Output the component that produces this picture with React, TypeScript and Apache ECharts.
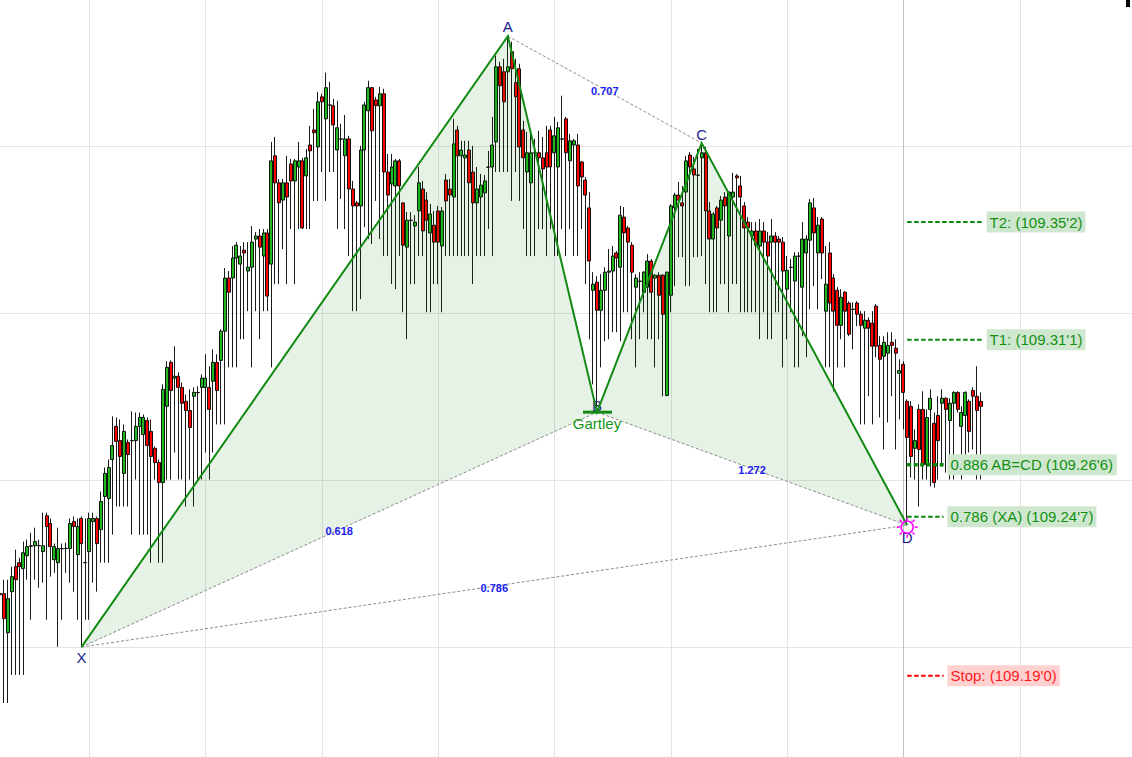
import React, { useEffect, useRef } from 'react';
import * as echarts from 'echarts';

// Price unit: thousandths above 109.000 (e.g. 352.7 = 109.3527)
const BAR_COUNT = 293; // 254 traded bars + empty future bars on the right
const barLabels: string[] = Array.from({ length: BAR_COUNT }, (_, i) => `Bar ${i + 1}`);

// [open, close, low, high]
const candles: number[][] = [
  [219.2,218.8,211.6,222.4],[219.2,210.2,179.9,224.2],[205.1,217.4,179.9,224.2],[219.9,225.3,190,228.9],[228.9,224.2,190,235],
  [230.3,228.9,190,232.1],[228.2,233.9,190,237.9],[232.8,236.1,224.2,238.6],[236.4,236.2,209.8,241.1],[236.4,237.9,224.2,242.9],
  [236.4,236.5,221.3,238.6],[234.3,236.4,223.1,248.3],[247.2,243.3,209.8,248.3],[244.4,236.1,225.3,246.2],[231.4,236.1,226.7,237.2],
  [230.3,235.4,200.1,242.9],[235.4,235.3,209.8,237.2],[235.4,235.5,226.7,237.5],[235.4,244.4,223.1,246.2],[245.1,243.3,219.9,246.9],
  [233.2,243.3,209.8,246.2],[246.2,237.2,200.0,246.9],[230.3,230.4,209.8,246.2],[234.3,246.2,209.8,248.3],[245.1,246.2,223.1,248.3],
  [246.2,237.2,219.9,246.9],[242.2,252.3,230.3,255.9],[254.1,262.4,230.3,264.5],[253.4,264.5,230.3,267.4],[267.4,272.4,240.4,282.9],
  [279.3,273.9,250.5,282.5],[274.2,268.5,250.5,281.8],[262.4,277.5,250.5,280],[273.5,269.2,250.5,274.6],[274.2,274.1,240.4,284.7],
  [274.2,279.3,260.2,284.3],[279.3,282.5,240.4,284.3],[276.4,282.5,240.4,283.6],[281.4,272.4,240.4,282.5],[277.5,268.5,230.3,281.8],
  [271.4,266.3,260.2,272.1],[266.3,259.1,230.3,267.4],[259.1,292.6,230.3,294.4],[286.5,300.5,260.2,302.7],[302.3,292.2,260.2,303.0],
  [296.6,297.3,269.9,308.1],[297.3,293.3,260.2,298.7],[293.3,287.6,260.2,295.1],[288.3,285,250.5,290.8],[285,278.9,260.2,292.6],
  [290.1,291.5,250.5,293.3],[291.5,291.4,260.2,293.7],[293.3,296.6,260.2,298],[293.3,296.6,269.9,305.2],[293.3,285.4,260.2,300.9],
  [295.5,302.3,269.9,307],[302.3,292.2,280,305.2],[303,313.5,280,314.2],[313.5,332.6,280,336.2],[332.6,327.5,300.5,335.1],
  [332.6,339.8,300.5,344.1],[339.8,344.4,300.5,345.5],[337.6,340.5,310.6,344.1],[342.6,341.6,310.6,345.5],[335.1,336.5,320.7,345.5],
  [336.5,345.5,300.5,351.3],[346.6,347.7,320.7,349.1],[347.7,343.7,310.6,350.2],[340.5,348.8,320.7,350.2],[348.8,326.1,320.7,350.2],
  [337.6,374.7,300.5,381.5],[376.5,366.8,330.4,383.3],[366.8,359.6,330.4,368.2],[360.6,366.8,343,368.2],[366.8,361.7,330.4,376.5],
  [373.6,367.5,350.2,375.4],[367.5,374.7,330.4,375.4],[372.5,374.7,350.2,381.5],[374.7,350.6,350.2,375.8],[369.3,375.8,350.2,379],
  [380.4,378.3,350.2,387.3],[385.8,384.8,360.3,393.4],[379.7,395.9,360.3,399.5],[397.7,395.9,370.7,398.8],[389.8,401,360.3,406.4],
  [394.8,394.7,370.7,403.1],[394.5,387.6,370.7,397],[378.6,386.6,350.2,396.3],[382.6,382.5,361,388],[376.5,382.6,350.2,391.2],
  [382.6,364.6,340.5,383.7],[364.6,358.5,320.7,367.5],[359.6,358.5,320.7,360.3],[358.5,378.6,325,380.1],[378.6,394.8,350.9,395.9],
  [392.7,401,346.6,403.5],[401,385.5,344.8,401.3],[396.6,394.5,360.3,397.7],[394.5,398.8,346.6,401.3],[398.8,370.7,340.5,400.6],
  [370.7,362.4,340.5,377.2],[366.4,372.5,330.4,377.2],[365.7,374.7,328.6,375.4],[374.7,365.7,340.5,375.4],[359.6,344.4,320.3,359.9],
  [343.7,353.4,310.6,356.3],[353.4,353.3,330.4,356.3],[351.3,352.7,330.4,355.2],[356.7,366.8,340.5,372.5],[364.6,349.5,340.5,367.5],
  [360.6,353.4,320.3,363.5],[348.8,355.6,320.3,359.2],[351.6,345.5,330.4,356.7],[356.7,345.5,330.4,358.5],[344.1,356.7,320.3,358.1],
  [367.8,360.3,340.5,370],[364.6,362.4,340.5,368.2],[361.7,380.8,340.5,389.8],[385.8,376.5,340.5,387.3],[376.5,378.6,340.5,381.9],
  [375.8,376.8,340.5,381.9],[378.6,366.8,340.5,381.9],[370.7,359.6,330.4,380.1],[359.6,364.6,340.5,372.5],[361.7,366,340.5,370],
  [363.2,367.5,340.5,369.6],[372.5,372.4,350.2,378.3],[372.5,380.4,340.5,390.5],[381.5,408.5,370.7,412.5],[408.5,401.7,370.7,410.3],
  [406.7,395.9,370.7,411.4],[406.7,408.5,370.7,419.5],[413.9,407.8,360.3,417.5],[402.8,397.7,370.7,411.4],[407.8,379.7,360.3,409.6],
  [385.8,375.8,350.2,389.1],[370.7,377.6,340.5,385.1],[366.8,377.6,340.5,384.4],[377.6,377.5,340.5,382.6],[377.6,375.8,350.2,385.5],
  [375.8,371.8,350.2,383.3],[377.6,372.5,340.5,387.3],[385.8,372.5,350.2,387.3],[377.6,383.7,340.5,390.5],[372.5,386.6,340.5,388.7],
  [382.6,382.5,350.2,398.1],[389.8,377.6,340.5,390.5],[374.7,381.9,350.2,384.4],[380.4,381.9,340.5,382.6],[380.4,365.7,340.5,384.4],
  [374.3,368.9,350.2,374.7],[367.8,362.4,330.4,368.9],[357.8,338.7,310.6,363.5],[328.2,330.4,294.4,334.7],[331.1,321,284.4,333.3],
  [321,328.2,300.5,334],[328.2,334.7,309.9,336.5],[334.7,335.1,310.6,343],[335.1,340.5,313.1,344.1],[341.6,339.8,313.1,342.3],
  [336.5,355.2,309.9,358.5],[354.5,348.8,320.3,358.1],[350.6,345.5,320.3,351.3],[344.4,334.7,310.6,345.5],[329.3,332.6,300.5,334],
  [331.5,331.4,310.6,334.7],[327.5,334.7,320.3,335.1],[329.3,338.7,310.6,341.2],[338.7,327.5,310.6,339.4],[332.6,333.6,300.5,334],
  [333.6,326.4,310.6,334.7],[333.6,319.6,290.1,334],[290.4,334.7,290.1,334.9],[326.4,358.5,320.3,359.2],[357.8,362.4,329.7,363.2],
  [362.4,360.6,340.1,367.1],[359.6,358.5,340.1,365.7],[363.5,374.7,329.7,376.5],[376.8,372.5,329.7,377.9],[371.8,369.6,340.1,376.1],
  [369.6,369.5,340.1,379],[375.8,377.6,340.5,381.1],[377.6,356.7,330.4,379.7],[356.7,346.6,320.3,359.9],[346.6,355.6,320.3,356.3],
  [357.8,350.6,320.3,358.5],[353.4,360.6,330.4,362.1],[361.7,358.5,330.4,363.5],[347.7,363.5,320.3,363.9],[361.7,363.5,330.4,370.4],
  [369.3,368.6,330.4,370],[365.7,361.7,320.3,369.3],[358.5,350.6,320.3,359.9],[352.7,350.6,320.3,354.5],[347.7,349.5,320.3,352.7],
  [349.5,344.4,320.3,352.7],[344.1,349.5,310.6,353.8],[349.5,345.5,320.3,352.7],[345.5,340.5,310.6,349.1],[345.5,347.7,310.6,353.8],
  [347.7,345.5,320.3,349.1],[346.6,345.5,320.3,347.7],[345.5,335.1,300.5,347.3],[328.6,335.4,310.6,340.5],[336.5,336.4,320.3,339.4],
  [331.5,340.5,300.5,341.9],[340.5,340.4,300.5,341.9],[329.3,346.6,311.7,352.7],[341.6,346.6,304.1,348],[346.2,359.6,321.4,361],
  [357.8,348.8,329.7,361.4],[341.6,351.6,321.4,354.5],[353.8,341.6,332.2,354.5],[320.7,330.4,300.5,344.1],[341.6,323.6,300.5,345.5],
  [332.6,320.7,291.9,334],[328.2,315.6,300.5,329.3],[315.6,325.7,310.6,328.6],[327.5,320.7,300.5,327.9],[323.6,312.4,311.7,324.3],
  [321.4,321.3,307,323.9],[323.6,319.6,315.3,324.3],[319.6,315.6,280,320.7],[314.6,317.4,280,320.7],[317.4,314.6,290.1,318.5],
  [316.4,308.1,280,320.7],[322.5,308.1,304.1,323.2],[308.4,303.4,282.5,311.7],[304.5,309.5,271,311.7],[305.6,308.4,280.7,313.1],
  [309.5,308.4,290.1,313.1],[307.4,305.6,271,310.6],[298.4,299.4,281.8,303.4],[301.6,291.5,278.2,302.7],[288.3,275.3,243.8,289],
  [286.5,268.5,260.9,288.3],[271.4,274.2,260.2,278.2],[285.4,271,250.5,287.2],[285.4,265.6,260.2,291.9],[265.6,282.5,260.2,285.4],
  [285.4,289.4,257.7,292.6],[280.4,259.1,257.3,284.3],[283.2,274.2,260.2,290.1],[287.6,289.4,264.9,292.6],[289.4,285.4,262.7,289.7],
  [281.4,287.6,260.2,289.4],[287.6,291.5,260.2,291.9],[291.5,285.4,284.3,291.9],[279.3,284.3,260.2,286.5],[283.2,291.5,264.9,291.9],
  [288.3,277.5,269.9,289],[292.2,290.1,271,293.3],[290.1,285,260.2,300.9],[288.3,286.5,260.2,291.5],
];

// Reference grid
const gridPrices = [200, 260, 320, 380];
const gridBars = [23, 53, 83, 113, 143, 173, 203, 263];
const cursorBar = 233;

// Harmonic (Gartley) pattern
const patternNames = ['X', 'A', 'B', 'C', 'D'];
const patternBars = [21, 131, 154, 181, 234];
const patternPrices = [200.0, 419.5, 284.4, 381.1, 243.8];
const patternTitle = 'Gartley';
const ratioLabels = ['0.618', '0.707', '1.272', '0.786'];
const ratioPairs = [[0, 2], [1, 3], [2, 4], [0, 4]];

// Targets / levels
const targetTexts = ["T2: (109.35'2)", "T1: (109.31'1)", "0.886 AB=CD (109.26'6)", "0.786 (XA) (109.24'7)", "Stop: (109.19'0)"];
const targetPrices = [352.7, 310.4, 265.5, 246.8, 189.7];
const targetKinds = ['target', 'target', 'zone', 'level', 'stop'];

const FONT = "'Liberation Sans', Arial, Helvetica, sans-serif";
const GREEN = '#138a13';

export default function App() {
  const ref = useRef<HTMLDivElement>(null);

  useEffect(() => {
    if (!ref.current) return;
    document.body.style.margin = '0';
    const chart = echarts.init(ref.current, null, { renderer: 'svg' });

    const gridRender = (params: any, api: any) => {
      const cs = params.coordSys;
      const children: any[] = [];
      gridPrices.forEach((v) => {
        const y = Math.round(api.coord([0, v])[1]) + 0.5;
        children.push({ type: 'line', shape: { x1: cs.x, y1: y, x2: cs.x + cs.width, y2: y }, style: { stroke: '#e4e4e4', lineWidth: 1 } });
      });
      gridBars.forEach((b) => {
        const x = Math.round(api.coord([b, 300])[0]) + 0.5;
        children.push({ type: 'line', shape: { x1: x, y1: cs.y, x2: x, y2: cs.y + cs.height }, style: { stroke: '#e4e4e4', lineWidth: 1 } });
      });
      const xc = Math.round(api.coord([cursorBar, 300])[0]) + 0.5;
      children.push({ type: 'line', shape: { x1: xc, y1: cs.y, x2: xc, y2: cs.y + cs.height }, style: { stroke: '#c2c2c2', lineWidth: 1 } });
      return { type: 'group', children };
    };

    const patternRender = (_params: any, api: any) => {
      const pts: number[][] = patternBars.map((b, i) => api.coord([b, patternPrices[i]]));
      const [X, A, B, C, D] = pts;
      const children: any[] = [];
      children.push({ type: 'polygon', shape: { points: [X, A, B] }, style: { fill: 'rgba(0,128,0,0.1)', stroke: 'none' } });
      children.push({ type: 'polygon', shape: { points: [B, C, D] }, style: { fill: 'rgba(0,128,0,0.1)', stroke: 'none' } });
      ratioPairs.forEach(([a, b]) => {
        children.push({
          type: 'line',
          shape: { x1: pts[a][0], y1: pts[a][1], x2: pts[b][0], y2: pts[b][1] },
          style: { stroke: '#8c8c8c', lineWidth: 1, lineDash: [3, 2] },
        });
      });
      ratioPairs.forEach(([a, b], k) => {
        children.push({
          type: 'text',
          style: {
            text: ratioLabels[k], x: (pts[a][0] + pts[b][0]) / 2, y: (pts[a][1] + pts[b][1]) / 2 + 1.5,
            fill: '#2020f0', font: `bold 11px ${FONT}`, align: 'center', verticalAlign: 'middle',
          },
        });
      });
      const labelOffsets = [10, -10, -7, -9, 12];
      patternNames.forEach((n, i) => {
        children.push({
          type: 'text',
          style: { text: n, x: pts[i][0], y: pts[i][1] + labelOffsets[i], fill: '#1c1c8c', font: `15px ${FONT}`, align: 'center', verticalAlign: 'middle' },
        });
      });
      children.push({ type: 'polyline', shape: { points: pts }, style: { stroke: GREEN, lineWidth: 2, fill: 'none' } });
      children.push({ type: 'line', shape: { x1: B[0] - 14, y1: B[1], x2: B[0] + 15, y2: B[1] }, style: { stroke: GREEN, lineWidth: 3 } });
      children.push({
        type: 'text',
        style: { text: patternTitle, x: B[0], y: B[1] + 11, fill: '#1a951a', font: `15px ${FONT}`, align: 'center', verticalAlign: 'middle' },
      });
      // D marker (sun)
      const cx = D[0], cy = D[1] + 2;
      children.push({ type: 'circle', shape: { cx, cy, r: 6 }, style: { stroke: '#ff00ff', lineWidth: 1.5, fill: 'none' } });
      for (let k = 0; k < 8; k++) {
        const ang = (Math.PI / 4) * k;
        children.push({
          type: 'line',
          shape: { x1: cx + Math.cos(ang) * 7.5, y1: cy + Math.sin(ang) * 7.5, x2: cx + Math.cos(ang) * 10.5, y2: cy + Math.sin(ang) * 10.5 },
          style: { stroke: '#ff00ff', lineWidth: 1.5 },
        });
      }
      return { type: 'group', children };
    };

    const targetRender = (_params: any, api: any) => {
      const band = api.size([1, 0])[0];
      const xAt = (f: number, v: number) => api.coord([Math.floor(f), v])[0] + (f - Math.floor(f)) * band;
      const children: any[] = [];
      targetPrices.forEach((v, k) => {
        const kind = targetKinds[k];
        const y = api.coord([0, v])[1];
        const isStop = kind === 'stop';
        const longLine = kind === 'target';
        const x1 = xAt(234, v);
        const x2 = longLine ? xAt(253.7, v) : xAt(243.4, v);
        const bx = longLine ? xAt(254.5, v) : xAt(244.4, v);
        const lineColor = isStop ? '#ff0000' : '#0b870b';
        children.push({
          type: 'line',
          shape: { x1, y1: y, x2, y2: y },
          style: { stroke: lineColor, lineWidth: kind === 'zone' ? 3.5 : 2, lineDash: kind === 'zone' ? [4, 2.5] : [4.5, 2.5] },
        });
        children.push({
          type: 'text',
          style: {
            text: targetTexts[k], x: bx, y,
            fill: isStop ? '#ff1a1a' : '#139013',
            font: `15px ${FONT}`, align: 'left', verticalAlign: 'middle',
            backgroundColor: isStop ? '#ffd0d0' : '#cfe7cf', padding: [3, 3, 3, 3],
          },
        });
      });
      return { type: 'group', children };
    };

    chart.setOption({
      animation: false,
      backgroundColor: '#ffffff',
      grid: { left: 0, right: 0, top: 0, bottom: 0, containLabel: false },
      xAxis: { type: 'category', data: barLabels, show: false, boundaryGap: false },
      yAxis: { type: 'value', min: 160.5, max: 432.5, show: false, splitLine: { show: false } },
      tooltip: { show: false },
      series: [
        { type: 'custom', z: 1, silent: true, clip: false, data: [[0, 300]], renderItem: gridRender },
        {
          type: 'candlestick', z: 2, silent: true, data: candles, barWidth: 3.5,
          itemStyle: {
            color: '#1fb81f', color0: '#ff0000',
            borderColor: '#000000', borderColor0: '#000000', borderColorDoji: '#000000', borderWidth: 0.9,
          },
        },
        { type: 'custom', z: 3, silent: true, clip: false, data: [[0, 300]], renderItem: patternRender },
        { type: 'custom', z: 4, silent: true, clip: false, data: [[0, 300]], renderItem: targetRender },
      ],
      graphic: [
        { type: 'rect', right: 2, top: 0, shape: { width: 4, height: 7 }, style: { fill: '#000000' } },
      ],
    });

    return () => chart.dispose();
  }, []);

  return (
    <div
      ref={ref}
      style={{ position: 'relative', width: 1132, height: 757, background: '#ffffff' }}
    />
  );
}
